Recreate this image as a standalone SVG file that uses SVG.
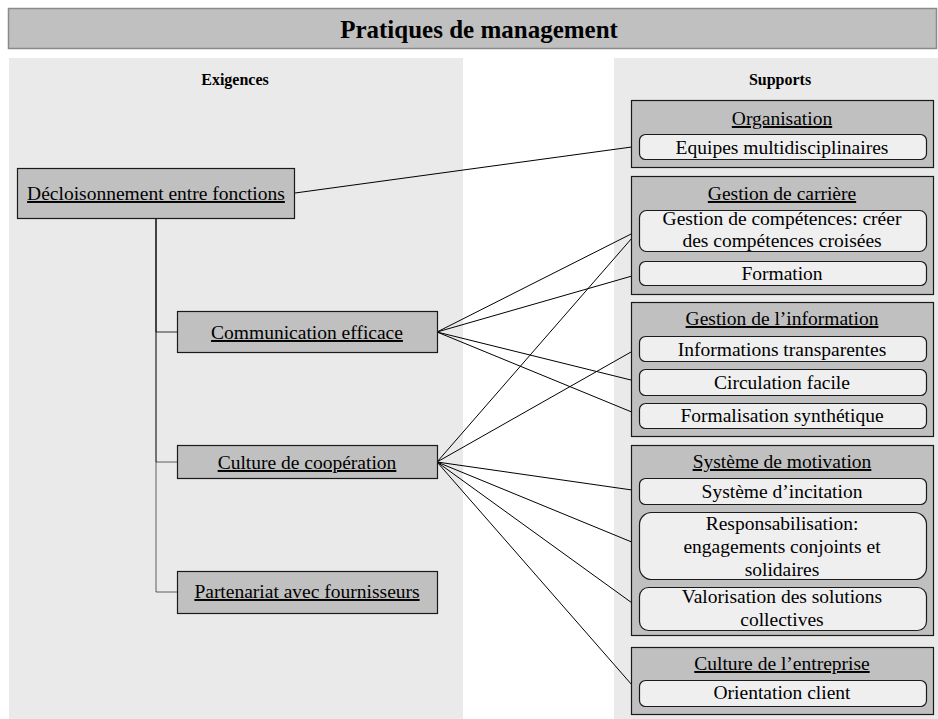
<svg xmlns="http://www.w3.org/2000/svg" width="938" height="719" viewBox="0 0 938 719">
  <style>
    .t { font-family: "Liberation Serif", "Times New Roman", serif; fill: #000; }
    .node { font-size: 19.5px; text-anchor: middle; }
    .hd { text-decoration: underline; }
    .bold { font-weight: bold; text-anchor: middle; }
    .box { fill: #c0c0c0; stroke: #1a1a1a; stroke-width: 1.2; }
    .item { fill: #efefef; stroke: #1a1a1a; stroke-width: 1.2; }
    .panel { fill: #eaeaea; }
    .conn { fill: none; stroke: #000; stroke-width: 1; }
  </style>

  <rect width="938" height="719" fill="#fff"/>

  <!-- title bar -->
  <g id="title">
    <rect x="8.5" y="8.5" width="928" height="40" fill="#c0c0c0" stroke="#8a8a8a" stroke-width="1.5"/>
    <text class="t bold" x="479" y="38" font-size="25">Pratiques de management</text>
  </g>

  <!-- column panels -->
  <g id="panel-exigences">
    <rect class="panel" x="9" y="58" width="454" height="661"/>
    <text class="t bold" x="235" y="85" font-size="16">Exigences</text>
  </g>
  <g id="panel-supports">
    <rect class="panel" x="614" y="58" width="324" height="661"/>
    <text class="t bold" x="780" y="85" font-size="16">Supports</text>
  </g>

  <!-- connectors -->
  <g id="connectors">
    <!-- tree from the top requirement -->
    <path class="conn" d="M156 218 V332 H177" stroke-opacity="0.8"/>
    <path class="conn" d="M156 218 V462 H177" stroke-opacity="0.6"/>
    <path class="conn" d="M156 218 V592 H177" stroke-opacity="0.6"/>
    <!-- requirement to support links -->
    <line class="conn" x1="295" y1="193" x2="639" y2="146"/>
    <line class="conn" x1="437" y1="332" x2="639" y2="230"/>
    <line class="conn" x1="437" y1="332" x2="639" y2="274"/>
    <line class="conn" x1="437" y1="332" x2="639" y2="382"/>
    <line class="conn" x1="437" y1="332" x2="639" y2="415"/>
    <line class="conn" x1="437" y1="462" x2="639" y2="230"/>
    <line class="conn" x1="437" y1="462" x2="631" y2="352"/>
    <line class="conn" x1="437" y1="462" x2="639" y2="491"/>
    <line class="conn" x1="437" y1="462" x2="639" y2="545"/>
    <line class="conn" x1="437" y1="462" x2="639" y2="608"/>
    <line class="conn" x1="437" y1="462" x2="639" y2="693"/>
  </g>

  <!-- requirements -->
  <g id="decloisonnement">
    <rect class="box" x="17.5" y="168.5" width="277" height="50"/>
    <text class="t node hd" x="156" y="200">Décloisonnement entre fonctions</text>
  </g>
  <g id="communication">
    <rect class="box" x="177.5" y="311.5" width="260" height="41"/>
    <text class="t node hd" x="307" y="339">Communication efficace</text>
  </g>
  <g id="cooperation">
    <rect class="box" x="177.5" y="445.5" width="260" height="33"/>
    <text class="t node hd" x="307" y="469">Culture de coopération</text>
  </g>
  <g id="partenariat">
    <rect class="box" x="177.5" y="571.5" width="260" height="42"/>
    <text class="t node hd" x="307" y="598">Partenariat avec fournisseurs</text>
  </g>

  <!-- supports -->
  <g id="organisation">
    <rect class="box" x="631.5" y="100.5" width="302" height="67"/>
    <text class="t node hd" x="782" y="125">Organisation</text>
    <g id="equipes">
      <rect class="item" x="639.5" y="134.5" width="287" height="25" rx="6"/>
      <text class="t node" x="782" y="154">Equipes multidisciplinaires</text>
    </g>
  </g>

  <g id="carriere">
    <rect class="box" x="631.5" y="176.5" width="302" height="118"/>
    <text class="t node hd" x="782" y="200">Gestion de carrière</text>
    <g id="competences">
      <rect class="item" x="639.5" y="210.5" width="287" height="41" rx="7"/>
      <text class="t node" x="782" y="225">Gestion de compétences: créer</text>
      <text class="t node" x="782" y="247">des compétences croisées</text>
    </g>
    <g id="formation">
      <rect class="item" x="639.5" y="261.5" width="287" height="24" rx="6"/>
      <text class="t node" x="782" y="280">Formation</text>
    </g>
  </g>

  <g id="information">
    <rect class="box" x="631.5" y="302.5" width="302" height="134"/>
    <text class="t node hd" x="782" y="325">Gestion de l’information</text>
    <g id="transparentes">
      <rect class="item" x="639.5" y="336.5" width="287" height="25" rx="6"/>
      <text class="t node" x="782" y="356">Informations transparentes</text>
    </g>
    <g id="circulation">
      <rect class="item" x="639.5" y="369.5" width="287" height="26" rx="6"/>
      <text class="t node" x="782" y="389">Circulation facile</text>
    </g>
    <g id="formalisation">
      <rect class="item" x="639.5" y="403.5" width="287" height="25" rx="6"/>
      <text class="t node" x="782" y="422">Formalisation synthétique</text>
    </g>
  </g>

  <g id="motivation">
    <rect class="box" x="631.5" y="445.5" width="302" height="190"/>
    <text class="t node hd" x="782" y="468">Système de motivation</text>
    <g id="incitation">
      <rect class="item" x="639.5" y="478.5" width="287" height="26" rx="6"/>
      <text class="t node" x="782" y="498">Système d’incitation</text>
    </g>
    <g id="responsabilisation">
      <rect class="item" x="639.5" y="512.5" width="287" height="67" rx="12"/>
      <text class="t node" x="782" y="530">Responsabilisation:</text>
      <text class="t node" x="782" y="553">engagements conjoints et</text>
      <text class="t node" x="782" y="576">solidaires</text>
    </g>
    <g id="valorisation">
      <rect class="item" x="639.5" y="587.5" width="287" height="43" rx="9"/>
      <text class="t node" x="782" y="603">Valorisation des solutions</text>
      <text class="t node" x="782" y="626">collectives</text>
    </g>
  </g>

  <g id="entreprise">
    <rect class="box" x="631.5" y="647.5" width="302" height="67"/>
    <text class="t node hd" x="782" y="670">Culture de l’entreprise</text>
    <g id="client">
      <rect class="item" x="639.5" y="680.5" width="287" height="26" rx="6"/>
      <text class="t node" x="782" y="699">Orientation client</text>
    </g>
  </g>
</svg>
